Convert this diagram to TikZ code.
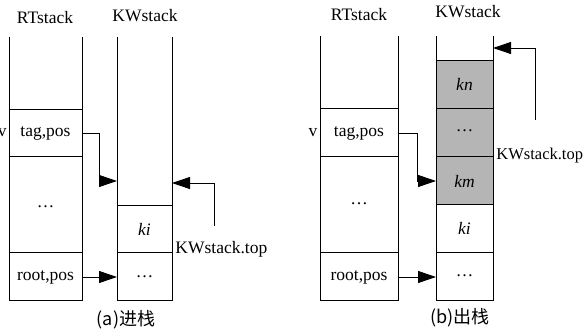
\documentclass[tikz,border=0pt]{standalone}
\usepackage{fontspec}
\setmainfont{Liberation Serif}
\newfontfamily\cjk{Noto Sans CJK SC}
\usetikzlibrary{arrows.meta}
\begin{document}
\begin{tikzpicture}[x=1pt,y=-1pt,line width=0.9pt,
  lbl/.style={font=\fontsize{17.5}{19}\selectfont,inner sep=0pt},
  captxt/.style={font=\cjk\fontsize{18}{20}\selectfont,inner sep=0pt},
  cellg/.style={fill=gray!58},
  arr/.style={-{Triangle[length=18pt,width=12pt]}}]
\useasboundingbox (0,0) rectangle (586,331);
% ---------- panel (a) ----------
\node[lbl] (rta) at (45,18) {RTstack};
\node[lbl] (kwa) at (145,16) {KWstack};
\draw (9,37) -- (9,300) -- (82,300) -- (82,37);
\draw (9,109) -- (82,109) (9,156) -- (82,156) (9,252) -- (82,252);
\draw (117,37) -- (117,300) -- (172,300) -- (172,37);
\draw (117,205) -- (172,205) (117,252) -- (172,252);
\node[lbl] (taga) at (45.5,133) {tag,pos};
\node[lbl] (dota) at (45.5,207) {\dots};
\node[lbl] (roota) at (45.5,277) {root,pos};
\node[lbl] (kia) at (144.5,229) {\itshape ki};
\node[lbl] (dotka) at (144.5,277) {\dots};
\node[lbl,anchor=east] (va) at (7,133) {v};
\node[lbl,anchor=west] (topa) at (175,249) {KWstack.top};
\coordinate (a1) at (82,133);
\coordinate (a2) at (117,181);
\coordinate (a3) at (214,226);
\coordinate (a4) at (172,183);
\coordinate (a5) at (82,277);
\coordinate (a6) at (117,277);
\draw[arr] (a1) -| (99,181) -- (a2);
\draw[arr] (a3) |- (a4);
\draw[arr] (a5) -- (a6);
\node[captxt] (capa) at (126,320) {(a)进栈};
% ---------- panel (b) ----------
\node[lbl] (rtb) at (359,15) {RTstack};
\node[lbl] (kwb) at (468,12) {KWstack};
\draw (320,36) -- (320,300) -- (398,300) -- (398,36);
\draw (320,108) -- (398,108) (320,156) -- (398,156) (320,252) -- (398,252);
\draw[cellg] (436,60) rectangle (493,204);
\draw (436,36) -- (436,300) -- (493,300) -- (493,36);
\draw (436,60) -- (493,60) (436,108) -- (493,108) (436,156) -- (493,156)
      (436,204) -- (493,204) (436,252) -- (493,252);
\node[lbl] (tagb) at (359,133) {tag,pos};
\node[lbl] (dotb) at (359,204) {\dots};
\node[lbl] (rootb) at (359,277) {root,pos};
\node[lbl] (knb) at (464.5,84) {\itshape kn};
\node[lbl] (dotgb) at (464.5,131) {\dots};
\node[lbl] (kmb) at (464.5,181) {\itshape km};
\node[lbl] (kib) at (464.5,228) {\itshape ki};
\node[lbl] (dotkb) at (464.5,276) {\dots};
\node[lbl] (vb) at (313,133) {v};
\node[lbl,anchor=west,font=\fontsize{16.5}{18}\selectfont] (topb) at (496,156) {KWstack.top};
\coordinate (b1) at (398,133);
\coordinate (b2) at (436,181);
\coordinate (b3) at (535,120);
\coordinate (b4) at (493,48);
\coordinate (b5) at (398,277);
\coordinate (b6) at (436,277);
\draw[arr] (b1) -| (417,181) -- (b2);
\draw[arr] (b3) |- (b4);
\draw[arr] (b5) -- (b6);
\node[captxt] (capb) at (460,318) {(b)出栈};
\end{tikzpicture}
\end{document}
